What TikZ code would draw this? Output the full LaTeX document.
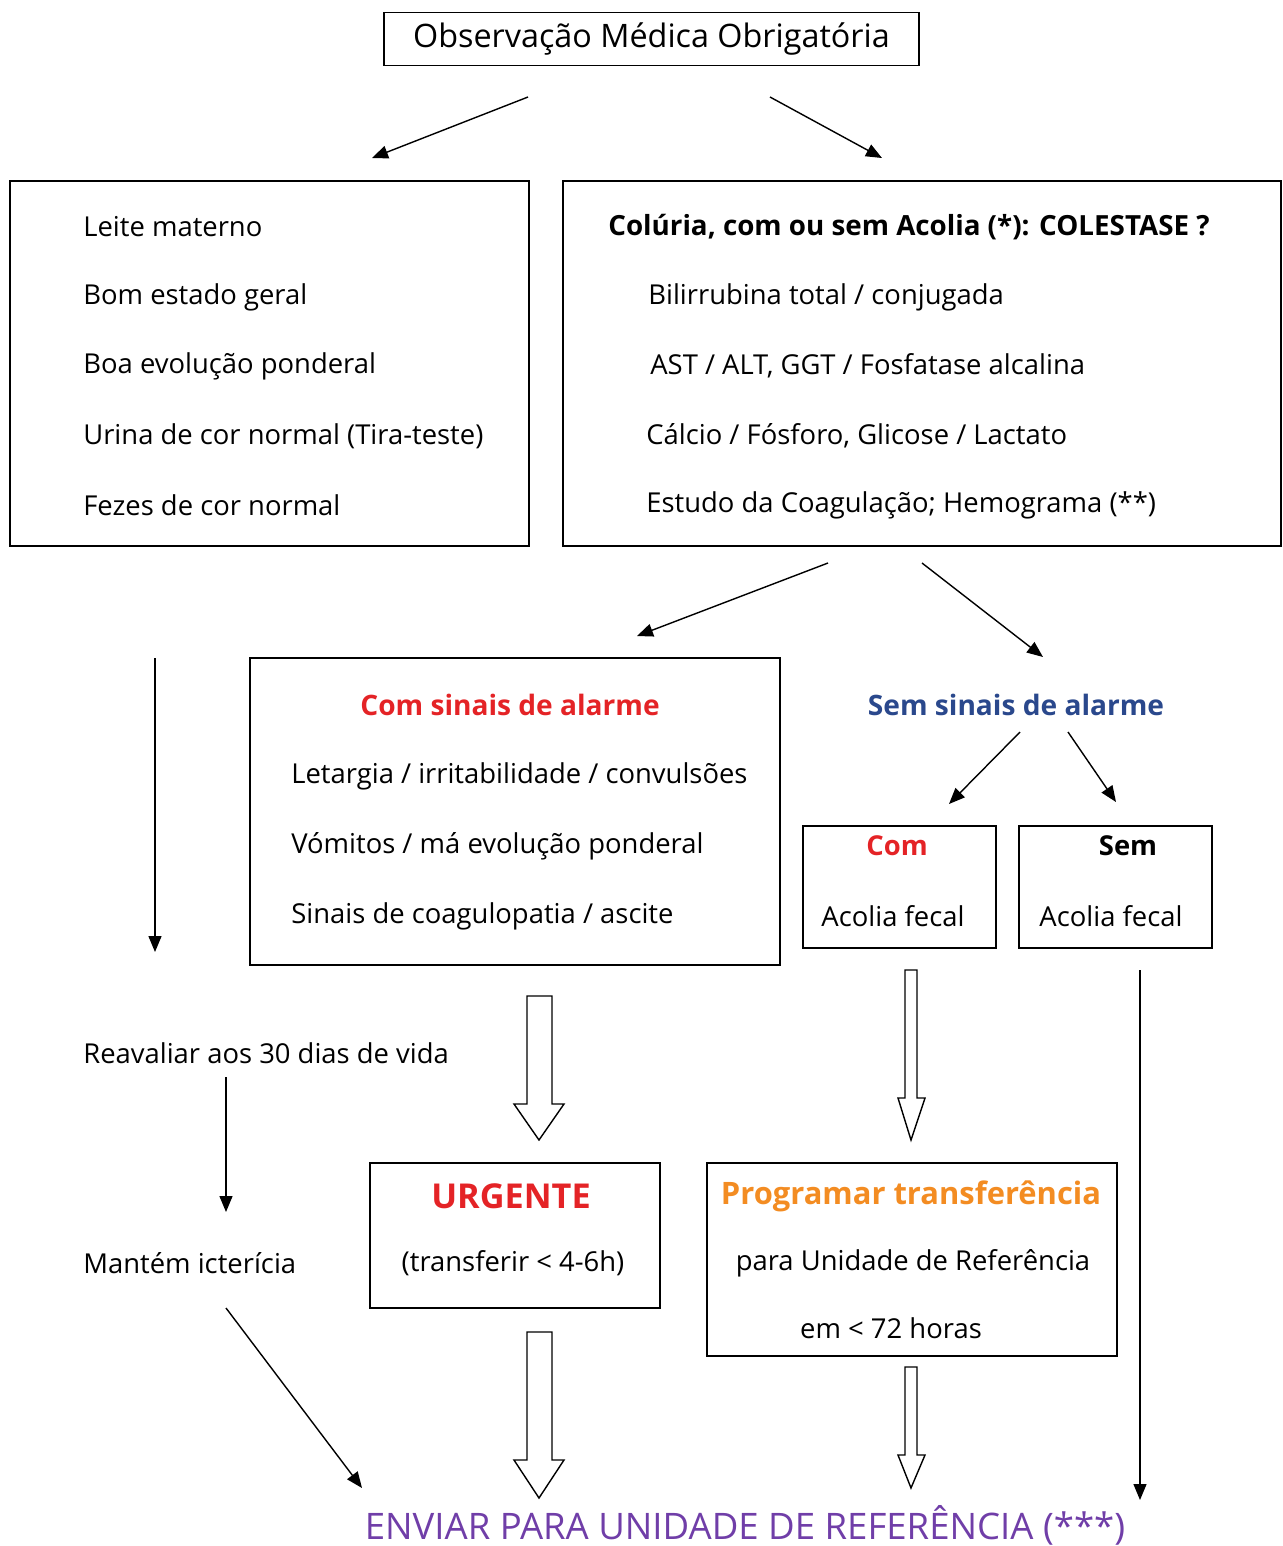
\documentclass[tikz,border=0pt]{standalone}
\usepackage{fontspec}
\setmainfont{Open Sans}
\usetikzlibrary{arrows.meta}
\definecolor{alarmred}{RGB}{228,35,38}
\definecolor{calmblue}{RGB}{42,72,140}
\definecolor{planorange}{RGB}{243,140,34}
\definecolor{sendpurple}{RGB}{112,62,168}

\begin{document}
\begin{tikzpicture}[x=0.02cm, y=-0.02cm,
        box/.style = {draw, rectangle, line width=0.9pt, inner sep=0pt},
        txt/.style = {anchor=west, inner sep=0pt, font=\fontsize{15.6}{18}\selectfont},
        ctxt/.style = {inner sep=0pt, font=\fontsize{15.6}{18}\selectfont},
        head/.style = {inner sep=0pt, font=\fontsize{16}{18}\selectfont\bfseries},
        arr/.style = {-{Triangle[length=3.2mm,width=2.6mm]}, line width=0.8pt},
        hollow/.style = {draw, line width=0.8pt, fill=white}]
        \useasboundingbox (0,0) rectangle (1283,1546);
        % boxes
        \node[box, minimum width=10.7cm, minimum height=1.06cm, font=\fontsize{18.4}{20}\selectfont] (1) at (651.5,39) {Observação Médica Obrigatória};
        \node[box, minimum width=10.38cm, minimum height=7.3cm] (2) at (269.5,363.5) {};
        \node[box, minimum width=14.36cm, minimum height=7.3cm] (3) at (922,363.5) {};
        \node[box, minimum width=10.6cm, minimum height=6.14cm] (4) at (515,811.5) {};
        \node[box, minimum width=3.86cm, minimum height=2.44cm] (5) at (899.5,887) {};
        \node[box, minimum width=3.86cm, minimum height=2.44cm] (6) at (1115.5,887) {};
        \node[box, minimum width=5.8cm, minimum height=2.9cm] (7) at (515,1235.5) {};
        \node[box, minimum width=8.2cm, minimum height=3.86cm] (8) at (912,1259.5) {};
        % left box
        \node[txt] (2a) at (83,227) {Leite materno};
        \node[txt] (2b) at (83,297) {Bom estado geral};
        \node[txt] (2c) at (83,366) {Boa evolução ponderal};
        \node[txt] (2d) at (83,436) {Urina de cor normal (Tira-teste)};
        \node[txt] (2e) at (83,505) {Fezes de cor normal};
        % right box
        \node[txt, font=\fontsize{15.8}{18}\selectfont\bfseries] (3a) at (608,227) {Colúria, com ou sem Acolia (*): COLESTASE ?};
        \node[txt] (3b) at (648,297) {Bilirrubina total / conjugada};
        \node[txt] (3c) at (650,366) {AST / ALT, GGT / Fosfatase alcalina};
        \node[txt] (3d) at (646,436) {Cálcio / Fósforo, Glicose / Lactato};
        \node[txt] (3e) at (646,505) {Estudo da Coagulação; Hemograma (**)};
        % alarm
        \node[head, text=alarmred] (4a) at (510,705) {Com sinais de alarme};
        \node[txt] (4b) at (291,776) {Letargia / irritabilidade / convulsões};
        \node[txt] (4c) at (291,846) {Vómitos / má evolução ponderal};
        \node[txt] (4d) at (291,916) {Sinais de coagulopatia / ascite};
        \node[head, text=calmblue] (9) at (1016,705) {Sem sinais de alarme};
        \node[ctxt, font=\fontsize{15.6}{18}\selectfont\bfseries, text=alarmred] (5a) at (897,846) {Com};
        \node[ctxt] (5b) at (893,916) {Acolia fecal};
        \node[ctxt, font=\fontsize{15.6}{18}\selectfont\bfseries] (6a) at (1128,846) {Sem};
        \node[ctxt] (6b) at (1111,916) {Acolia fecal};
        \node[txt] (10) at (83,1053) {Reavaliar aos 30 dias de vida};
        \node[txt] (11) at (83,1263) {Mantém icterícia};
        \node[head, font=\fontsize{19.5}{21}\selectfont\bfseries, text=alarmred] (7a) at (511,1196) {URGENTE};
        \node[ctxt] (7b) at (513,1263) {(transferir < 4-6h)};
        \node[head, font=\fontsize{17.6}{20}\selectfont\bfseries, text=planorange] (8a) at (911,1196) {Programar transferência};
        \node[ctxt] (8b) at (913,1263) {para Unidade de Referência};
        \node[ctxt] (8c) at (891,1328) {em < 72 horas};
        \node[head, font=\fontsize{20.8}{22}\selectfont, text=sendpurple] (12) at (745,1525) {ENVIAR PARA UNIDADE DE REFERÊNCIA (***)};
        % arrow ends
        \coordinate (a1) at (528,97);   \coordinate (b1) at (372,158);
        \coordinate (a2) at (770,97);   \coordinate (b2) at (882,158);
        \coordinate (a3) at (828,563);  \coordinate (b3) at (637,636);
        \coordinate (a4) at (922,563);  \coordinate (b4) at (1043,657);
        \coordinate (a5) at (155,658);  \coordinate (b5) at (155,952);
        \coordinate (a6) at (1020,732); \coordinate (b6) at (949,804);
        \coordinate (a7) at (1068,732); \coordinate (b7) at (1116,802);
        \coordinate (a8) at (226,1077); \coordinate (b8) at (226,1212);
        \coordinate (a9) at (226,1308); \coordinate (b9) at (362,1488);
        \coordinate (a10) at (1140,970); \coordinate (b10) at (1140,1500);
        \draw[arr] (a1) -- (b1);
        \draw[arr] (a2) -- (b2);
        \draw[arr] (a3) -- (b3);
        \draw[arr] (a4) -- (b4);
        \draw[arr] (a5) -- (b5);
        \draw[arr] (a6) -- (b6);
        \draw[arr] (a7) -- (b7);
        \draw[arr] (a8) -- (b8);
        \draw[arr] (a9) -- (b9);
        \draw[arr] (a10) -- (b10);
        % hollow arrows
        \draw[hollow] (527,996) -- (552,996) -- (552,1104) -- (564,1104) -- (539,1140) -- (514,1104) -- (527,1104) -- cycle;
        \draw[hollow] (527,1332) -- (552,1332) -- (552,1460) -- (564,1460) -- (539,1498) -- (514,1460) -- (527,1460) -- cycle;
        \draw[hollow] (905,970) -- (917,970) -- (917,1098) -- (925,1098) -- (911,1140) -- (898,1098) -- (905,1098) -- cycle;
        \draw[hollow] (905,1367) -- (917,1367) -- (917,1455) -- (925,1455) -- (911,1488) -- (898,1455) -- (905,1455) -- cycle;
\end{tikzpicture}
\end{document}
